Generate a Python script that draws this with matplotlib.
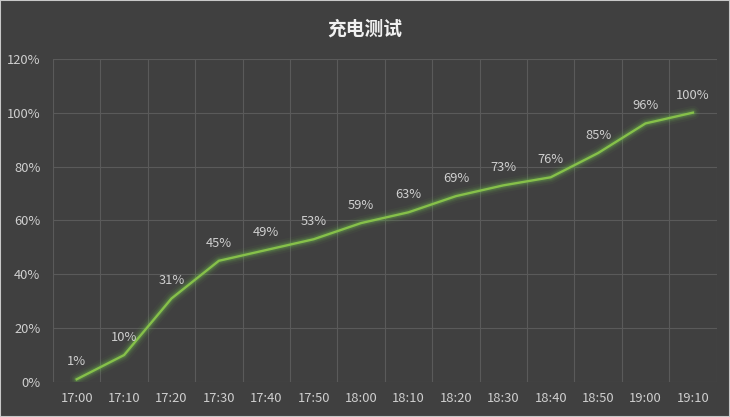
import matplotlib.pyplot as plt

plt.rcParams['font.family'] = ['Noto Sans CJK SC', 'DejaVu Sans']

times = ['17:00', '17:10', '17:20', '17:30', '17:40', '17:50', '18:00',
         '18:10', '18:20', '18:30', '18:40', '18:50', '19:00', '19:10']
charge = [1, 10, 31, 45, 49, 53, 59, 63, 69, 73, 76, 85, 96, 100]
yticks = [0, 20, 40, 60, 80, 100, 120]

bg = '#404040'
grid = '#5a5a5a'
txt = '#cfcfcf'
green = '#86c04a'

fig = plt.figure(figsize=(7.3, 4.17), dpi=100, facecolor=bg)
ax = fig.add_axes([0.0726, 0.084, 0.909, 0.775])
ax.set_facecolor(bg)

x = list(range(len(times)))

# glow
for lw, a in [(10, 0.06), (7, 0.1), (5, 0.15), (3.5, 0.22)]:
    ax.plot(x, charge, color='#6ab04c', lw=lw, alpha=a, solid_capstyle='round',
            solid_joinstyle='round')
ax.plot(x, charge, color=green, lw=1.7, solid_joinstyle='round')

for xi, v in zip(x, charge):
    ax.annotate('%d%%' % v, (xi, v), xytext=(0, 8), textcoords='offset points',
                ha='center', va='bottom', color=txt, fontsize=9.3)

ax.set_xlim(-0.5, len(times) - 0.5)
ax.set_ylim(0, 120)
ax.set_xticks(x)
ax.set_xticklabels(times)
ax.set_yticks(yticks)
ax.set_yticklabels(['%d%%' % t for t in yticks])
ax.set_xticks([i + 0.5 for i in range(-1, len(times))], minor=True)
ax.tick_params(which='both', length=0, colors=txt, labelsize=9.3)
ax.tick_params(axis='x', pad=7)
ax.tick_params(axis='y', pad=9)
ax.grid(True, which='minor', axis='x', color=grid, lw=0.8)
ax.grid(True, which='major', axis='y', color=grid, lw=0.8)
for s in ax.spines.values():
    s.set_visible(False)
ax.set_axisbelow(True)

fig.text(0.5, 0.93, '充电测试', ha='center', va='center', color='#f0f0f0',
         fontsize=13.5, fontweight='bold')

# thin light frame round the picture
fig.patches.append(plt.Rectangle((0, 0), 1, 1, transform=fig.transFigure,
                                 fill=False, edgecolor='#c8c8c8', lw=1.5))

fig.savefig('out.png', dpi=100, facecolor=bg)
